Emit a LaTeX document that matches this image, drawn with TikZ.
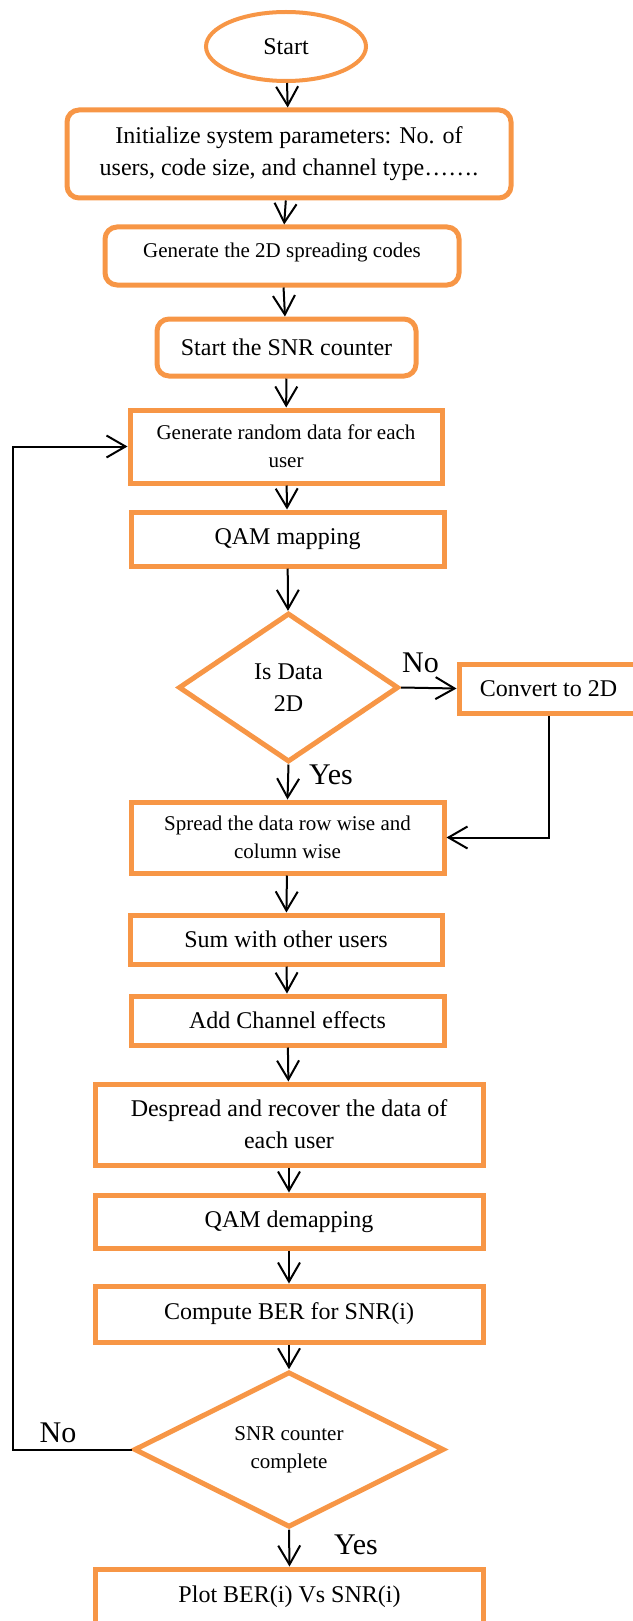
\documentclass[tikz,border=0pt]{standalone}
\usepackage{fontspec}
\setmainfont{Liberation Serif}
\usepackage{xcolor}
\usetikzlibrary{arrows.meta, shapes.geometric}
\definecolor{boxorange}{RGB}{247,150,70}

\tikzset{
  every node/.style={inner sep=0pt},
  box/.style={draw=boxorange, line width=2.5pt, align=center, font=\fontsize{12}{16}\selectfont},
  roundbox/.style={box, rounded corners=6pt},
  decision/.style={box, diamond},
  smalltext/.style={font=\fontsize{10.5}{14}\selectfont},
  flow/.style={-{Straight Barb[length=9.5pt,width=11pt]}, line width=1pt},
  answer/.style={font=\fontsize{15}{17}\selectfont},
}

\begin{document}
\begin{tikzpicture}[x=0.5pt,y=-0.5pt]
  \useasboundingbox (0,0) rectangle (632,1621);
  % set-up part
  \node[box, ellipse, line width=2pt, minimum width=80pt, minimum height=34.5pt] (start) at (286,46.5) {Start};
  \node[roundbox, minimum width=222pt, minimum height=44pt] (init) at (289,154)
       {Initialize system parameters: No. of\\users, code size, and channel type…….};
  \node[roundbox, smalltext, minimum width=177pt, minimum height=29pt, text depth=6pt] (codes) at (282,256)
       {Generate the 2D spreading codes};
  \node[roundbox, minimum width=129.5pt, minimum height=28.5pt] (counter) at (286.5,347.5)
       {Start the SNR counter};
  % transmitter
  \node[box, smalltext, minimum width=156pt, minimum height=36.5pt] (data) at (286,446.5)
       {Generate random data for each\\user};
  \node[box, minimum width=156.5pt, minimum height=27pt] (qam) at (287.5,539) {QAM mapping};
  \node[decision, minimum width=110pt, minimum height=74.5pt] (is2d) at (288.5,687.5) {Is Data\\2D};
  \node[box, minimum width=89.5pt, minimum height=24.5pt] (conv) at (548.5,688.5) {Convert to 2D};
  \node[box, smalltext, minimum width=156.5pt, minimum height=35.5pt] (spread) at (287.5,837.5)
       {Spread the data row wise and\\column wise};
  \node[box, minimum width=156pt, minimum height=24.5pt] (sum) at (286,939.5) {Sum with other users};
  \node[box, minimum width=156.5pt, minimum height=24.5pt] (chan) at (287.5,1020.5) {Add Channel effects};
  % receiver
  \node[box, minimum width=194pt, minimum height=40.5pt] (desp) at (289,1124.5)
       {Despread and recover the data of\\each user};
  \node[box, minimum width=194pt, minimum height=26.5pt] (demap) at (289,1221.5) {QAM demapping};
  \node[box, minimum width=194pt, minimum height=28pt] (ber) at (289,1314) {Compute BER for SNR(i)};
  \node[decision, smalltext, minimum width=155pt, minimum height=72pt] (done) at (289,1449.5)
       {SNR counter\\complete};
  \node[box, minimum width=194pt, minimum height=28pt] (plot) at (289.5,1597) {Plot BER(i) Vs SNR(i)};
  \coordinate (loop) at (13,1449.5);

  % connectors
  \draw[flow] (start) -- (init);
  \draw[flow] (init) -- (codes);
  \draw[flow] (codes) -- (counter);
  \draw[flow] (counter) -- (data);
  \draw[flow] (data) -- (qam);
  \draw[flow] (qam) -- (is2d);
  \draw[flow] (is2d.east) -- node[answer, above=7pt, pos=0.35] {No} (conv.west);
  \draw[flow] (is2d.south) -- node[answer, right=10pt, pos=0.3] {Yes} (spread.north);
  \draw[flow] (conv.south) |- (spread.east);
  \draw[flow] (spread) -- (sum);
  \draw[flow] (sum) -- (chan);
  \draw[flow] (chan) -- (desp);
  \draw[flow] (desp) -- (demap);
  \draw[flow] (demap) -- (ber);
  \draw[flow] (ber) -- (done);
  \draw[flow] (done.south) -- node[answer, right=22pt, pos=0.4] {Yes} (plot.north);
  \draw[flow] (done.west) -- node[answer, above=3pt, pos=0.62] {No} (loop) |- (data.west);
\end{tikzpicture}
\end{document}
